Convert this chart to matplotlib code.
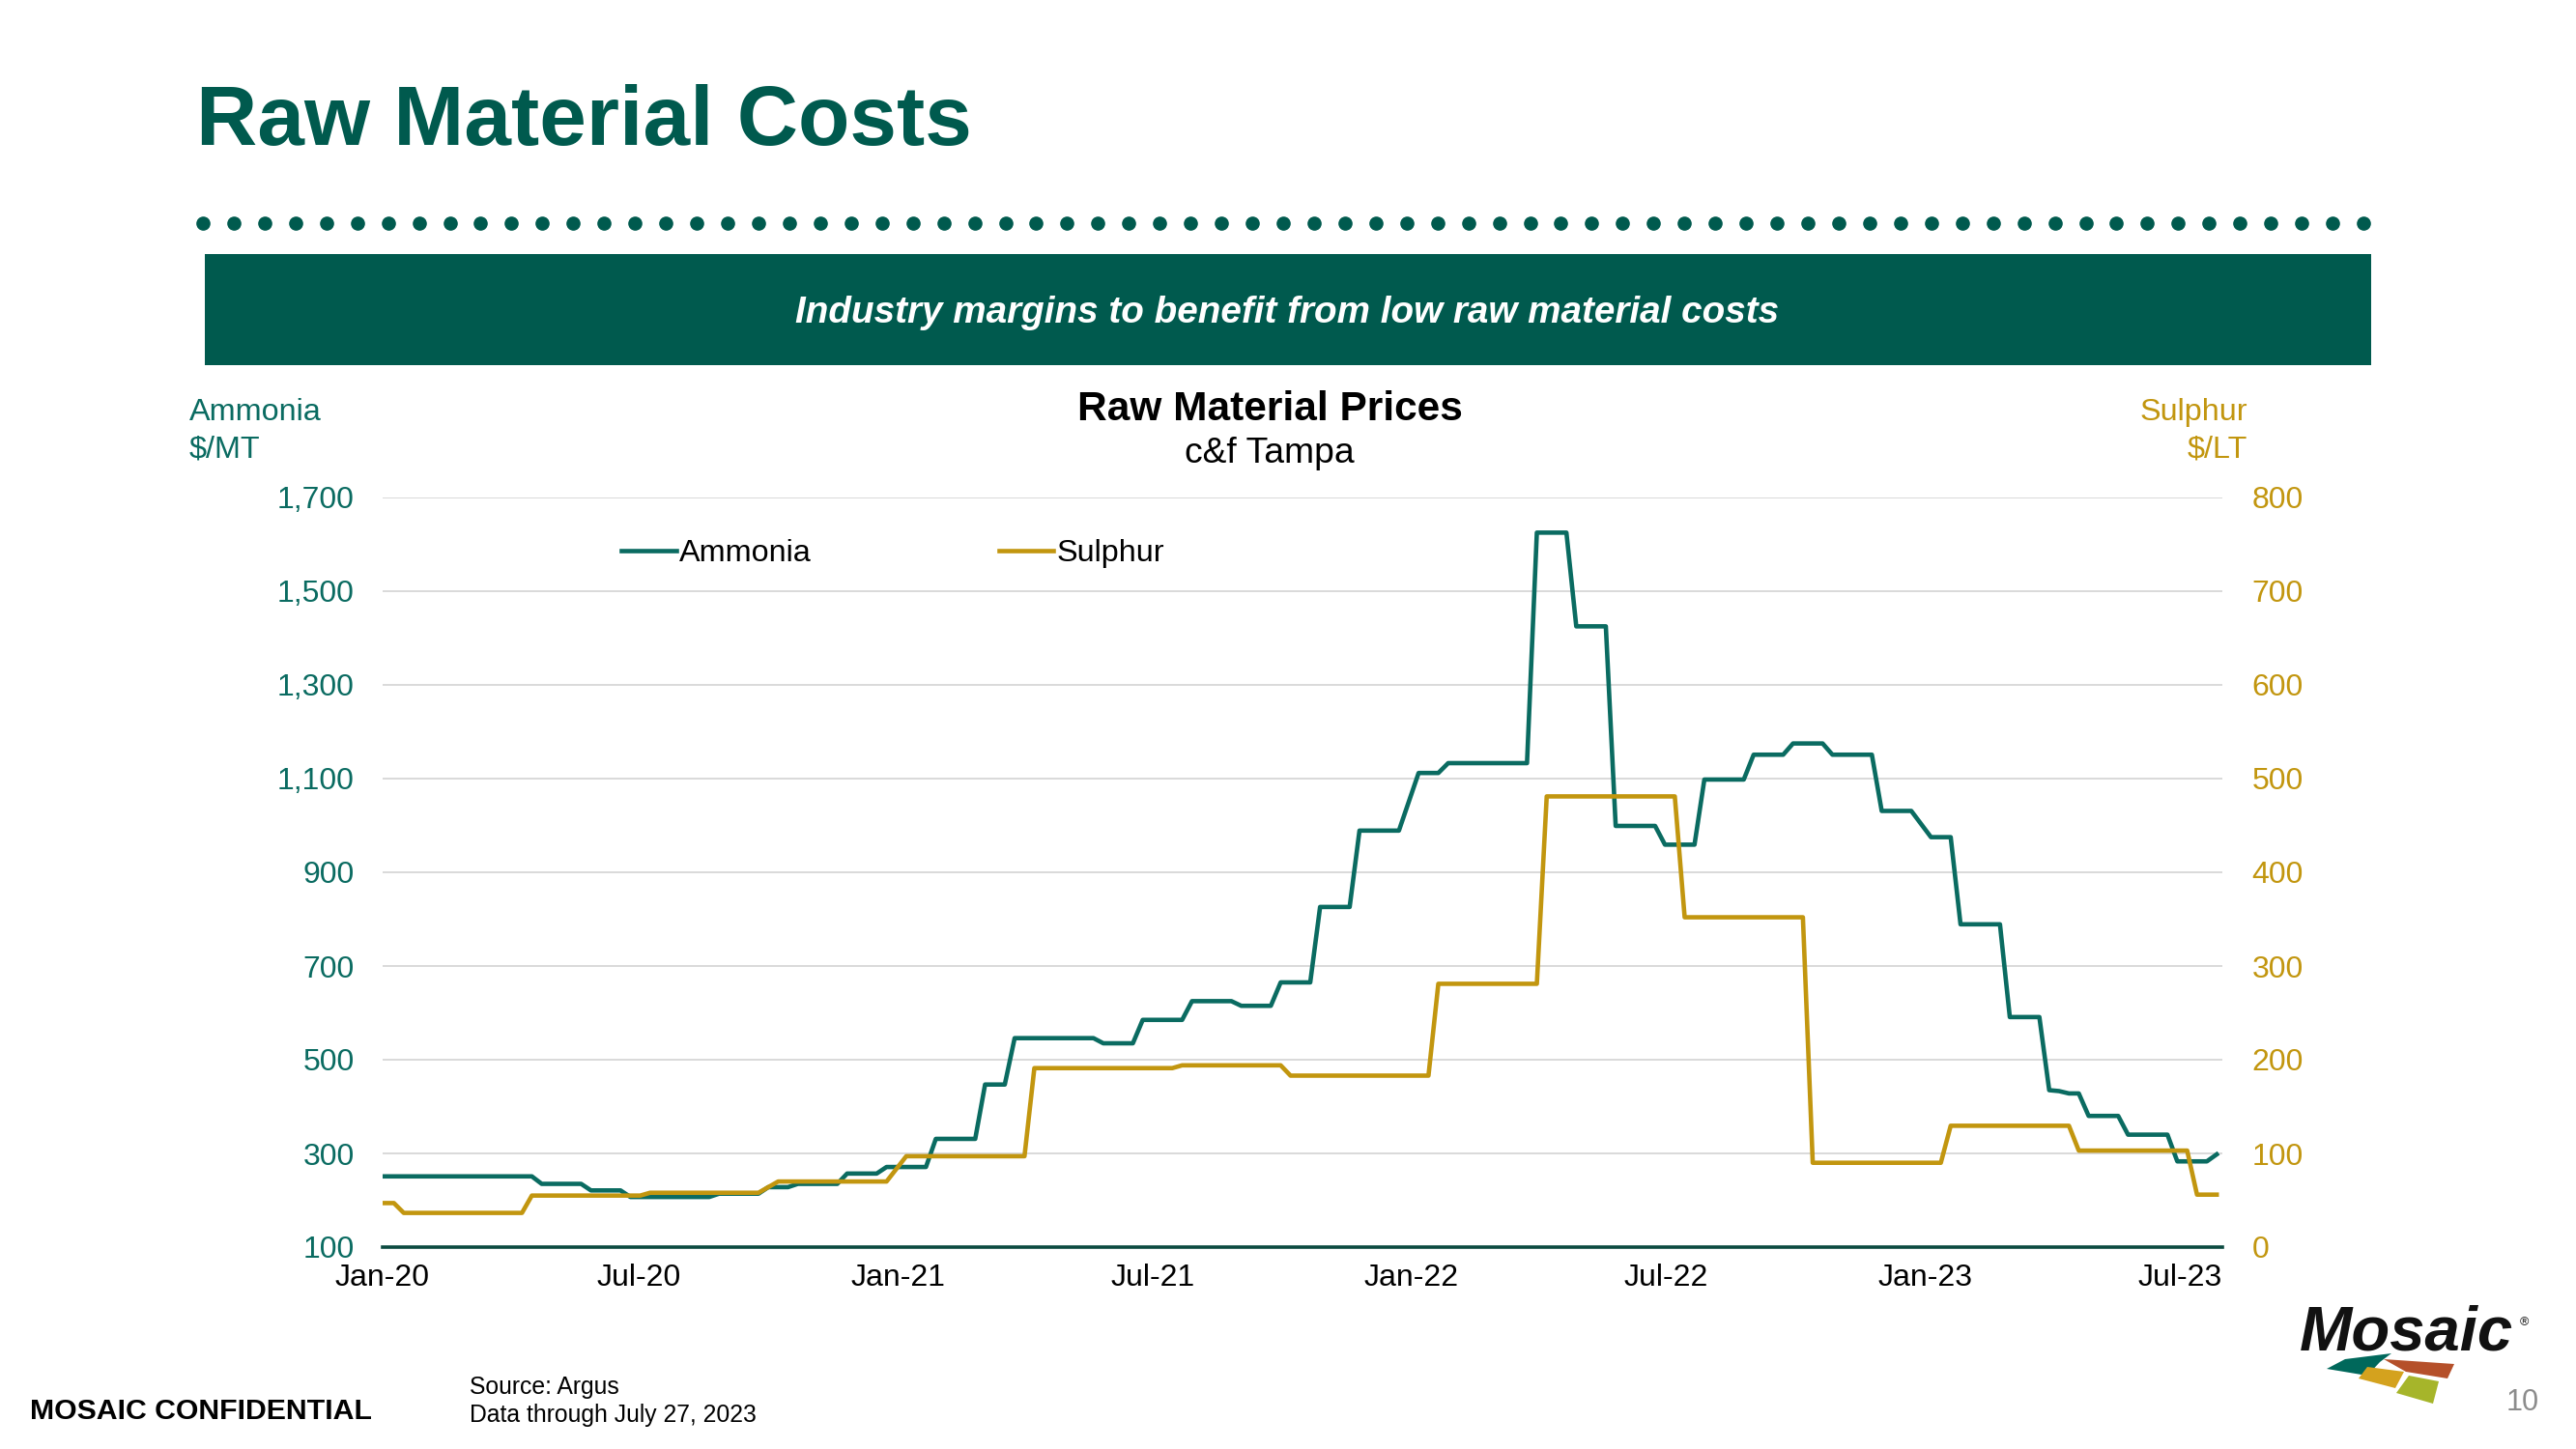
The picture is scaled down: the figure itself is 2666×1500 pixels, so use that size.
import matplotlib
matplotlib.use("Agg")
import matplotlib.pyplot as plt
import matplotlib.dates as mdates
from matplotlib.lines import Line2D
from matplotlib.patches import Rectangle, Polygon
from matplotlib.ticker import FuncFormatter, FixedLocator
import numpy as np
import pandas as pd

# weekly Argus quotes, c&f Tampa (vertices of the weekly line)
ammonia_dates = [
    "2020-01-02", "2020-04-16", "2020-04-23", "2020-05-21", "2020-05-28", "2020-06-18",
    "2020-06-25", "2020-08-20", "2020-08-27", "2020-09-24", "2020-10-01", "2020-10-15",
    "2020-10-22", "2020-11-19", "2020-11-26", "2020-12-17", "2020-12-24", "2021-01-21",
    "2021-01-28", "2021-02-25", "2021-03-04", "2021-03-18", "2021-03-25", "2021-05-20",
    "2021-05-27", "2021-06-17", "2021-06-24", "2021-07-22", "2021-07-29", "2021-08-26",
    "2021-09-02", "2021-09-23", "2021-09-30", "2021-10-21", "2021-10-28", "2021-11-18",
    "2021-11-25", "2021-12-23", "2022-01-06", "2022-01-20", "2022-01-27", "2022-03-24",
    "2022-03-31", "2022-04-21", "2022-04-28", "2022-05-19", "2022-05-26", "2022-06-23",
    "2022-06-30", "2022-07-21", "2022-07-28", "2022-08-25", "2022-09-01", "2022-09-22",
    "2022-09-29", "2022-10-20", "2022-10-27", "2022-11-24", "2022-12-01", "2022-12-22",
    "2022-12-29", "2023-01-05", "2023-01-19", "2023-01-26", "2023-02-23", "2023-03-02",
    "2023-03-23", "2023-03-30", "2023-04-06", "2023-04-13", "2023-04-20", "2023-04-27",
    "2023-05-18", "2023-05-25", "2023-06-22", "2023-06-29", "2023-07-20", "2023-07-27",
]
ammonia_values = [
    251, 251, 235, 235, 221, 221,
    207, 207, 214, 214, 228, 228,
    235, 235, 257, 257, 271, 271,
    331, 331, 447, 447, 546, 546,
    535, 535, 585, 585, 625, 625,
    615, 615, 665, 665, 826, 826,
    989, 989, 1112, 1112, 1133, 1133,
    1625, 1625, 1425, 1425, 999, 999,
    959, 959, 1098, 1098, 1151, 1151,
    1175, 1175, 1151, 1151, 1031, 1031,
    1003, 975, 975, 789, 789, 591,
    591, 435, 433, 428, 428, 380,
    380, 340, 340, 283, 283, 298,
]

sulphur_dates = [
    "2020-01-02", "2020-01-09", "2020-01-16", "2020-04-09", "2020-04-16", "2020-07-02",
    "2020-07-09", "2020-09-24", "2020-10-08", "2020-12-24", "2021-01-07", "2021-04-01",
    "2021-04-08", "2021-07-15", "2021-07-22", "2021-09-30", "2021-10-07", "2022-01-13",
    "2022-01-20", "2022-03-31", "2022-04-07", "2022-07-07", "2022-07-14", "2022-10-06",
    "2022-10-13", "2023-01-12", "2023-01-19", "2023-04-13", "2023-04-20", "2023-07-06",
    "2023-07-13", "2023-07-27",
]
sulphur_values = [
    47, 47, 36.5, 36.5, 55, 55,
    58, 58, 70, 70, 97, 97,
    191, 191, 194, 194, 183, 183,
    281, 281, 481, 481, 352, 352,
    90, 90, 129.5, 129.5, 103, 103,
    56, 56,
]

x_ticks = ["2020-01-01", "2020-07-01", "2021-01-01", "2021-07-01",
           "2022-01-01", "2022-07-01", "2023-01-01", "2023-07-01"]
ammonia_ticks = [100, 300, 500, 700, 900, 1100, 1300, 1500, 1700]
sulphur_ticks = [0, 100, 200, 300, 400, 500, 600, 700, 800]

GREEN = "#005A4E"
TEAL = "#0A6B61"
GOLD = "#C2960F"
FONT = "Liberation Sans"

plt.rcParams["font.family"] = [FONT, "DejaVu Sans"]

W, H = 2666, 1500
fig = plt.figure(figsize=(W / 100, H / 100), dpi=100)


def fx(x):
    return x / W


def fy(y):
    return 1 - y / H


# header
fig.text(fx(203), fy(150), "Raw Material Costs", fontsize=63, fontweight="bold",
         color=GREEN, va="baseline", ha="left")
dots_x = np.linspace(fx(210), fx(2446), 71)
fig.add_artist(Line2D(dots_x, [fy(231)] * len(dots_x), transform=fig.transFigure,
                      linestyle="none", marker="o", markersize=9.5, color=GREEN))
fig.add_artist(Rectangle((fx(212), fy(378)), fx(2454) - fx(212), fy(263) - fy(378),
                         transform=fig.transFigure, color=GREEN, lw=0))
fig.text(fx(1332), fy(324), "Industry margins to benefit from low raw material costs",
         fontsize=27.8, fontweight="bold", fontstyle="italic", color="white",
         ha="center", va="center")

# chart
ax = fig.add_axes([fx(396), fy(1291), fx(2300) - fx(396), fy(515) - fy(1291)])
ax2 = ax.twinx()

am_x = pd.to_datetime(ammonia_dates)
su_x = pd.to_datetime(sulphur_dates)
l1, = ax.plot(am_x, ammonia_values, color=TEAL, lw=3.3, solid_joinstyle="round")
l2, = ax2.plot(su_x, sulphur_values, color=GOLD, lw=3.3, solid_joinstyle="round")

ax.set_xlim(pd.Timestamp("2020-01-01"), pd.Timestamp("2023-07-31"))
ax.set_ylim(100, 1700)
ax2.set_ylim(0, 800)
ax.xaxis.set_major_locator(FixedLocator(mdates.date2num(pd.to_datetime(x_ticks))))
ax.xaxis.set_major_formatter(mdates.DateFormatter("%b-%y"))
ax.set_yticks(ammonia_ticks)
ax2.set_yticks(sulphur_ticks)
ax.yaxis.set_major_formatter(FuncFormatter(lambda v, p: f"{v:,.0f}"))

ax.grid(axis="y", color="#D9D9D9", lw=1.4)
ax.set_axisbelow(True)
for a in (ax, ax2):
    for s in ("top", "left", "right", "bottom"):
        a.spines[s].set_visible(False)
ax.spines["bottom"].set_visible(True)
ax.spines["bottom"].set_color("#0B4A40")
ax.spines["bottom"].set_linewidth(2.6)

ax.tick_params(axis="x", length=0, pad=12, labelsize=23, labelcolor="black")
ax.tick_params(axis="y", length=0, pad=21, labelsize=23, labelcolor=TEAL)
ax2.tick_params(axis="y", length=0, pad=22, labelsize=23, labelcolor=GOLD)

ax2.legend([l1, l2], ["Ammonia", "Sulphur"], loc="center left",
           bbox_to_anchor=(fx(643), fy(573)), bbox_transform=fig.transFigure,
           ncol=2, frameon=False, handlelength=1.75, handletextpad=0.1,
           columnspacing=6.0, borderpad=0, borderaxespad=0, fontsize=23.3)

# chart titles and axis units
fig.text(fx(1314), fy(435), "Raw Material Prices", fontsize=30.5, fontweight="bold",
         color="black", ha="center", va="baseline")
fig.text(fx(1314), fy(479), "c&f Tampa", fontsize=26.8, color="black",
         ha="center", va="baseline")
fig.text(fx(196), fy(435), "Ammonia", fontsize=23.3, color=TEAL, va="baseline")
fig.text(fx(196), fy(474), "$/MT", fontsize=23.3, color=TEAL, va="baseline")
fig.text(fx(2326), fy(435), "Sulphur", fontsize=23.3, color=GOLD, ha="right", va="baseline")
fig.text(fx(2326), fy(474), "$/LT", fontsize=23.3, color=GOLD, ha="right", va="baseline")

# footer
fig.text(fx(31), fy(1469), "MOSAIC CONFIDENTIAL", fontsize=21.8, fontweight="bold",
         color="black", va="baseline")
fig.text(fx(486), fy(1443), "Source: Argus", fontsize=17.8, color="black", va="baseline")
fig.text(fx(486), fy(1472), "Data through July 27, 2023", fontsize=17.8, color="black",
         va="baseline")
fig.text(fx(2628), fy(1460), "10", fontsize=22, color="#8C8C8C", ha="right", va="baseline")

# logo
fig.text(fx(2380), fy(1398), "Mosaic", fontsize=47, fontweight="bold", fontstyle="italic",
         color="#111111", va="baseline")
fig.text(fx(2608), fy(1372), "®", fontsize=9, color="#111111", va="baseline")
tiles = [
    ([(2408, 1417), (2427, 1407), (2475, 1401), (2463, 1410), (2450, 1424)], "#00685B"),
    ([(2467, 1407), (2540, 1412), (2533, 1427), (2490, 1420)], "#B5502A"),
    ([(2450, 1415), (2488, 1420), (2479, 1437), (2441, 1427)], "#D4A21E"),
    ([(2493, 1424), (2524, 1430), (2518, 1453), (2480, 1442)], "#A6B52A"),
]
for pts, c in tiles:
    fig.add_artist(Polygon([(fx(x), fy(y)) for x, y in pts], closed=True,
                           transform=fig.transFigure, color=c, lw=0))

fig.savefig("out.png", dpi=100)
